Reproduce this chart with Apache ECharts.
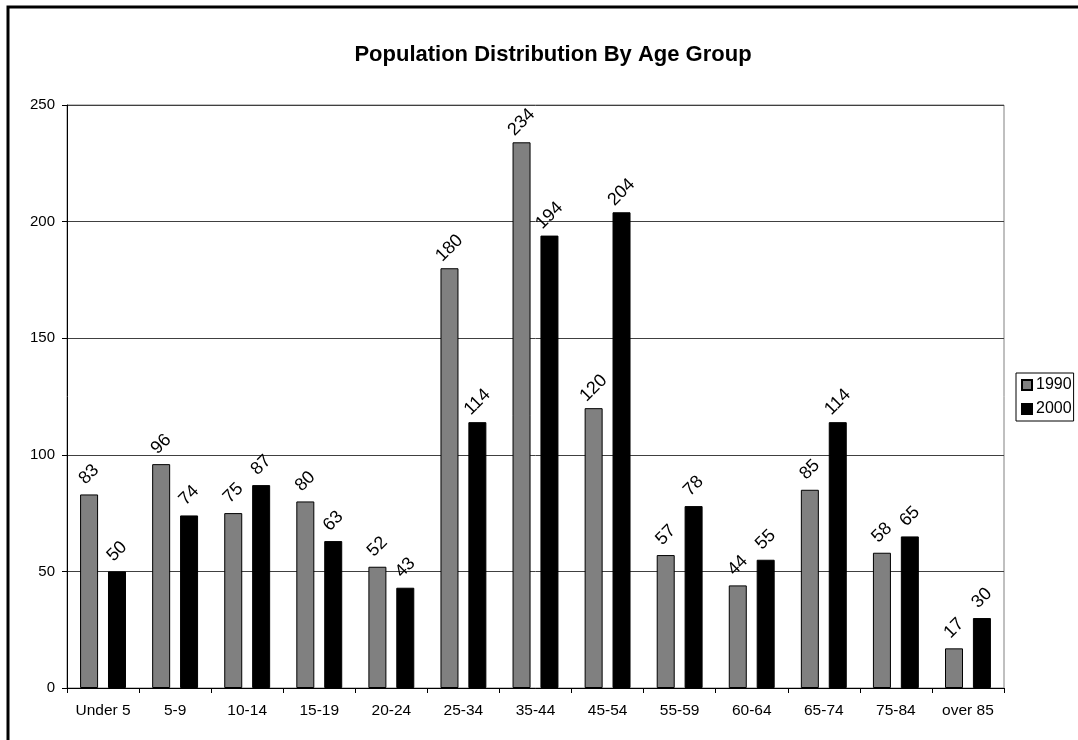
<!DOCTYPE html>
<html>
<head>
<meta charset="utf-8">
<script src="https://cdn.jsdelivr.net/npm/echarts@6/dist/echarts.min.js"></script>
<style>
  html, body { margin: 0; padding: 0; background: #fff; }
  #chart { width: 1078px; height: 740px; }
</style>
</head>
<body>
<div id="chart"></div>
<script>
// Age groups and population counts per census year
const categories = ['Under 5', '5-9', '10-14', '15-19', '20-24', '25-34', '35-44', '45-54', '55-59', '60-64', '65-74', '75-84', 'over 85'];
const values1990 = [83, 96, 75, 80, 52, 180, 234, 120, 57, 44, 85, 58, 17];
const values2000 = [50, 74, 87, 63, 43, 114, 194, 204, 78, 55, 114, 65, 30];
const seriesNames = ['1990', '2000'];
const yTicks = { min: 0, max: 250, step: 50 };

const FONT = 'Liberation Sans, Arial, sans-serif';

const chart = echarts.init(document.getElementById('chart'), null, { renderer: 'canvas' });

const barLabel = {
  show: true,
  position: 'top',
  distance: 20,
  rotate: 45,
  align: 'center',
  verticalAlign: 'middle',
  color: '#000',
  fontFamily: FONT,
  fontSize: 18
};

chart.setOption({
  animation: false,
  backgroundColor: '#fff',
  title: {
    text: 'Population Distribution By Age Group',
    left: 548,
    top: 39,
    textAlign: 'center',
    textStyle: { fontFamily: FONT, fontSize: 22, fontWeight: 'bold', color: '#000' }
  },
  graphic: [{
    type: 'rect',
    shape: { x: 8, y: 7, width: 1300, height: 1000 },
    style: { fill: 'none', stroke: '#000', lineWidth: 3 },
    silent: true,
    z: 100
  }],
  legend: {
    orient: 'vertical',
    left: 1016,
    top: 373,
    data: seriesNames,
    icon: 'rect',
    itemWidth: 10,
    itemHeight: 10,
    itemGap: 8,
    padding: [4, 2, 4, 5],
    borderColor: '#000',
    borderWidth: 1,
    textStyle: { fontFamily: FONT, fontSize: 16, color: '#000', padding: [0, 0, 0, -1] }
  },
  grid: {
    left: 67,
    top: 105,
    right: 74,
    bottom: 52,
    show: true,
    borderColor: '#808080',
    borderWidth: 1,
    backgroundColor: 'transparent'
  },
  xAxis: {
    type: 'category',
    data: categories,
    axisLine: { lineStyle: { color: '#000', width: 1 } },
    axisTick: { show: true, alignWithLabel: false, length: 5, lineStyle: { color: '#000' } },
    axisLabel: { fontFamily: FONT, fontSize: 15.5, color: '#000', margin: 15, interval: 0 },
    splitLine: { show: false }
  },
  yAxis: {
    type: 'value',
    min: yTicks.min,
    max: yTicks.max,
    interval: yTicks.step,
    axisLine: { show: true, lineStyle: { color: '#000', width: 1 } },
    axisTick: { show: true, length: 5, lineStyle: { color: '#000' } },
    axisLabel: { fontFamily: FONT, fontSize: 15, color: '#000', margin: 12 },
    splitLine: { show: true, lineStyle: { color: '#404040', width: 1 } }
  },
  series: [
    {
      name: seriesNames[0],
      type: 'bar',
      data: values1990,
      barWidth: 18,
      barGap: '55%',
      itemStyle: { color: '#808080', borderColor: '#000', borderWidth: 1 },
      label: barLabel
    },
    {
      name: seriesNames[1],
      type: 'bar',
      data: values2000,
      barWidth: 18,
      barGap: '55%',
      itemStyle: { color: '#000', borderColor: '#000', borderWidth: 1 },
      label: barLabel
    }
  ]
});
</script>
</body>
</html>
